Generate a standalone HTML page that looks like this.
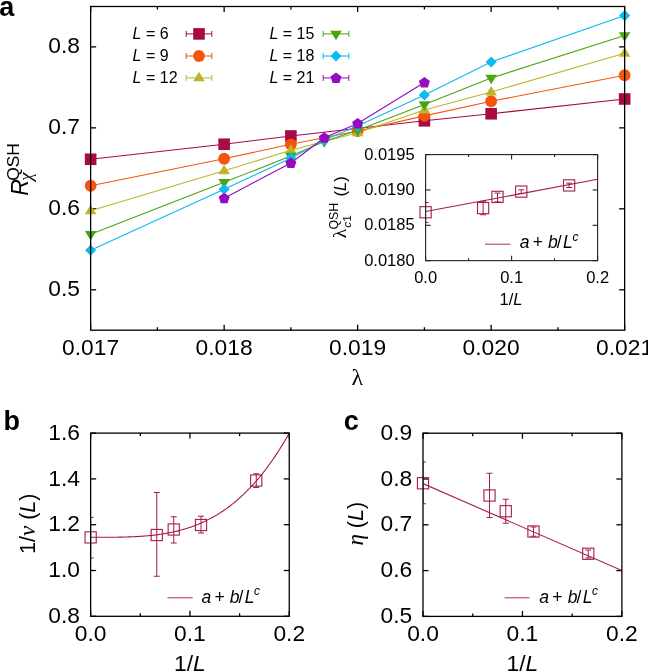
<!DOCTYPE html><html><head><meta charset="utf-8"><style>html,body{margin:0;padding:0;background:#fff;}svg{display:block;will-change:transform;}text{font-family:"Liberation Sans", sans-serif;fill:#000;}</style></head><body>
<svg width="648" height="672" viewBox="0 0 648 672">
<line x1="90.64" y1="330.20" x2="90.64" y2="324.70" stroke="#000" stroke-width="1.3" />
<line x1="90.64" y1="6.50" x2="90.64" y2="12.00" stroke="#000" stroke-width="1.3" />
<text x="90.64" y="354.50" font-size="22.8" text-anchor="middle" >0.017</text>
<line x1="224.14" y1="330.20" x2="224.14" y2="324.70" stroke="#000" stroke-width="1.3" />
<line x1="224.14" y1="6.50" x2="224.14" y2="12.00" stroke="#000" stroke-width="1.3" />
<text x="224.14" y="354.50" font-size="22.8" text-anchor="middle" >0.018</text>
<line x1="357.64" y1="330.20" x2="357.64" y2="324.70" stroke="#000" stroke-width="1.3" />
<line x1="357.64" y1="6.50" x2="357.64" y2="12.00" stroke="#000" stroke-width="1.3" />
<text x="357.64" y="354.50" font-size="22.8" text-anchor="middle" >0.019</text>
<line x1="491.15" y1="330.20" x2="491.15" y2="324.70" stroke="#000" stroke-width="1.3" />
<line x1="491.15" y1="6.50" x2="491.15" y2="12.00" stroke="#000" stroke-width="1.3" />
<text x="491.15" y="354.50" font-size="22.8" text-anchor="middle" >0.020</text>
<line x1="624.65" y1="330.20" x2="624.65" y2="324.70" stroke="#000" stroke-width="1.3" />
<line x1="624.65" y1="6.50" x2="624.65" y2="12.00" stroke="#000" stroke-width="1.3" />
<text x="624.65" y="354.50" font-size="22.8" text-anchor="middle" >0.021</text>
<line x1="157.39" y1="330.20" x2="157.39" y2="327.20" stroke="#000" stroke-width="1.3" />
<line x1="157.39" y1="6.50" x2="157.39" y2="9.50" stroke="#000" stroke-width="1.3" />
<line x1="290.89" y1="330.20" x2="290.89" y2="327.20" stroke="#000" stroke-width="1.3" />
<line x1="290.89" y1="6.50" x2="290.89" y2="9.50" stroke="#000" stroke-width="1.3" />
<line x1="424.40" y1="330.20" x2="424.40" y2="327.20" stroke="#000" stroke-width="1.3" />
<line x1="424.40" y1="6.50" x2="424.40" y2="9.50" stroke="#000" stroke-width="1.3" />
<line x1="557.90" y1="330.20" x2="557.90" y2="327.20" stroke="#000" stroke-width="1.3" />
<line x1="557.90" y1="6.50" x2="557.90" y2="9.50" stroke="#000" stroke-width="1.3" />
<line x1="90.64" y1="289.80" x2="96.14" y2="289.80" stroke="#000" stroke-width="1.3" />
<line x1="624.65" y1="289.80" x2="619.15" y2="289.80" stroke="#000" stroke-width="1.3" />
<text x="80.00" y="296.40" font-size="22.8" text-anchor="end" >0.5</text>
<line x1="90.64" y1="208.83" x2="96.14" y2="208.83" stroke="#000" stroke-width="1.3" />
<line x1="624.65" y1="208.83" x2="619.15" y2="208.83" stroke="#000" stroke-width="1.3" />
<text x="80.00" y="215.43" font-size="22.8" text-anchor="end" >0.6</text>
<line x1="90.64" y1="127.86" x2="96.14" y2="127.86" stroke="#000" stroke-width="1.3" />
<line x1="624.65" y1="127.86" x2="619.15" y2="127.86" stroke="#000" stroke-width="1.3" />
<text x="80.00" y="134.46" font-size="22.8" text-anchor="end" >0.7</text>
<line x1="90.64" y1="46.89" x2="96.14" y2="46.89" stroke="#000" stroke-width="1.3" />
<line x1="624.65" y1="46.89" x2="619.15" y2="46.89" stroke="#000" stroke-width="1.3" />
<text x="80.00" y="53.49" font-size="22.8" text-anchor="end" >0.8</text>
<polyline points="90.64,159.25 224.14,144.25 290.89,136.00 424.40,120.80 491.15,113.75 624.65,99.00" fill="none" stroke="#a80a44" stroke-width="1.1"/>
<polyline points="90.64,185.75 224.14,158.75 290.89,144.30 357.64,131.00 424.40,115.90 491.15,101.25 624.65,75.25" fill="none" stroke="#f4550e" stroke-width="1.1"/>
<polyline points="90.64,210.75 224.14,170.75 290.89,150.25 357.64,132.75 424.40,110.00 491.15,92.00 624.65,53.25" fill="none" stroke="#bdb42c" stroke-width="1.1"/>
<polyline points="90.64,234.30 224.14,182.30 290.89,156.05 324.27,141.55 357.64,130.35 424.40,104.45 491.15,78.05 624.65,35.55" fill="none" stroke="#48a612" stroke-width="1.1"/>
<polyline points="90.64,250.25 224.14,189.25 290.89,158.30 324.27,140.00 357.64,126.00 424.40,95.00 491.15,62.00 624.65,15.60" fill="none" stroke="#0cbaec" stroke-width="1.1"/>
<polyline points="224.14,198.25 290.89,163.00 324.27,137.70 357.64,123.50 424.40,82.50" fill="none" stroke="#940cbe" stroke-width="1.1"/>
<rect x="84.84" y="153.45" width="11.60" height="11.60" fill="#a80a44"/>
<rect x="218.34" y="138.45" width="11.60" height="11.60" fill="#a80a44"/>
<rect x="285.09" y="130.20" width="11.60" height="11.60" fill="#a80a44"/>
<rect x="418.60" y="115.00" width="11.60" height="11.60" fill="#a80a44"/>
<rect x="485.35" y="107.95" width="11.60" height="11.60" fill="#a80a44"/>
<rect x="618.85" y="93.20" width="11.60" height="11.60" fill="#a80a44"/>
<circle cx="90.64" cy="185.75" r="5.90" fill="#f4550e"/>
<circle cx="224.14" cy="158.75" r="5.90" fill="#f4550e"/>
<circle cx="290.89" cy="144.30" r="5.90" fill="#f4550e"/>
<circle cx="357.64" cy="131.00" r="5.90" fill="#f4550e"/>
<circle cx="424.40" cy="115.90" r="5.90" fill="#f4550e"/>
<circle cx="491.15" cy="101.25" r="5.90" fill="#f4550e"/>
<circle cx="624.65" cy="75.25" r="5.90" fill="#f4550e"/>
<polygon points="84.84,214.17 96.44,214.17 90.64,204.66" fill="#bdb42c"/>
<polygon points="218.34,174.17 229.94,174.17 224.14,164.66" fill="#bdb42c"/>
<polygon points="285.09,153.67 296.69,153.67 290.89,144.16" fill="#bdb42c"/>
<polygon points="351.84,136.17 363.44,136.17 357.64,126.66" fill="#bdb42c"/>
<polygon points="418.60,113.42 430.20,113.42 424.40,103.91" fill="#bdb42c"/>
<polygon points="485.35,95.42 496.95,95.42 491.15,85.91" fill="#bdb42c"/>
<polygon points="618.85,56.67 630.45,56.67 624.65,47.16" fill="#bdb42c"/>
<polygon points="84.84,231.07 96.44,231.07 90.64,240.58" fill="#48a612"/>
<polygon points="218.34,179.07 229.94,179.07 224.14,188.58" fill="#48a612"/>
<polygon points="285.09,152.82 296.69,152.82 290.89,162.33" fill="#48a612"/>
<polygon points="318.47,138.32 330.07,138.32 324.27,147.83" fill="#48a612"/>
<polygon points="351.84,127.12 363.44,127.12 357.64,136.63" fill="#48a612"/>
<polygon points="418.60,101.22 430.20,101.22 424.40,110.73" fill="#48a612"/>
<polygon points="485.35,74.82 496.95,74.82 491.15,84.33" fill="#48a612"/>
<polygon points="618.85,32.32 630.45,32.32 624.65,41.83" fill="#48a612"/>
<polygon points="90.64,244.68 96.21,250.25 90.64,255.82 85.07,250.25" fill="#0cbaec"/>
<polygon points="224.14,183.68 229.71,189.25 224.14,194.82 218.57,189.25" fill="#0cbaec"/>
<polygon points="290.89,152.73 296.46,158.30 290.89,163.87 285.33,158.30" fill="#0cbaec"/>
<polygon points="324.27,134.43 329.84,140.00 324.27,145.57 318.70,140.00" fill="#0cbaec"/>
<polygon points="357.64,120.43 363.21,126.00 357.64,131.57 352.08,126.00" fill="#0cbaec"/>
<polygon points="424.40,89.43 429.96,95.00 424.40,100.57 418.83,95.00" fill="#0cbaec"/>
<polygon points="491.15,56.43 496.72,62.00 491.15,67.57 485.58,62.00" fill="#0cbaec"/>
<polygon points="624.65,10.03 630.22,15.60 624.65,21.17 619.08,15.60" fill="#0cbaec"/>
<polygon points="224.14,192.85 229.66,196.86 227.55,203.34 220.73,203.34 218.63,196.86" fill="#940cbe"/>
<polygon points="290.89,157.60 296.41,161.61 294.30,168.09 287.48,168.09 285.38,161.61" fill="#940cbe"/>
<polygon points="324.27,132.30 329.79,136.31 327.68,142.79 320.86,142.79 318.75,136.31" fill="#940cbe"/>
<polygon points="357.64,118.10 363.16,122.11 361.05,128.59 354.24,128.59 352.13,122.11" fill="#940cbe"/>
<polygon points="424.40,77.10 429.91,81.11 427.81,87.59 420.99,87.59 418.88,81.11" fill="#940cbe"/>
<rect x="90.64" y="6.5" width="534.01" height="323.70" fill="none" stroke="#000" stroke-width="1.3"/>
<text x="357.40" y="385.40" font-size="24" text-anchor="middle" style='font-family:"Liberation Serif", serif'>λ</text>
<g transform="translate(27.5,196) rotate(-90)"><text x="0.3" y="0" font-size="23" font-style="italic">R</text><text x="15.2" y="-8.9" font-size="17.4">QSH</text><text x="15.3" y="4.8" font-size="18.5" font-style="italic" style='font-family:"Liberation Serif", serif'>χ</text></g>
<text x="-0.80" y="15.70" font-size="27" text-anchor="start" font-weight="bold">a</text>
<text x="132.60" y="39.10" font-size="16" text-anchor="start" ><tspan font-style="italic">L</tspan> = 6</text>
<line x1="186.20" y1="33.90" x2="211.80" y2="33.90" stroke="#a80a44" stroke-width="1.0" />
<line x1="186.20" y1="30.90" x2="186.20" y2="36.90" stroke="#a80a44" stroke-width="1.0" />
<line x1="211.80" y1="30.90" x2="211.80" y2="36.90" stroke="#a80a44" stroke-width="1.0" />
<rect x="193.20" y="28.10" width="11.60" height="11.60" fill="#a80a44"/>
<text x="132.60" y="61.20" font-size="16" text-anchor="start" ><tspan font-style="italic">L</tspan> = 9</text>
<line x1="186.20" y1="56.00" x2="211.80" y2="56.00" stroke="#f4550e" stroke-width="1.0" />
<line x1="186.20" y1="53.00" x2="186.20" y2="59.00" stroke="#f4550e" stroke-width="1.0" />
<line x1="211.80" y1="53.00" x2="211.80" y2="59.00" stroke="#f4550e" stroke-width="1.0" />
<circle cx="199.00" cy="56.00" r="5.90" fill="#f4550e"/>
<text x="132.60" y="83.10" font-size="16" text-anchor="start" ><tspan font-style="italic">L</tspan> = 12</text>
<line x1="186.20" y1="77.90" x2="211.80" y2="77.90" stroke="#bdb42c" stroke-width="1.0" />
<line x1="186.20" y1="74.90" x2="186.20" y2="80.90" stroke="#bdb42c" stroke-width="1.0" />
<line x1="211.80" y1="74.90" x2="211.80" y2="80.90" stroke="#bdb42c" stroke-width="1.0" />
<polygon points="193.20,81.32 204.80,81.32 199.00,71.81" fill="#bdb42c"/>
<text x="269.40" y="39.10" font-size="16" text-anchor="start" ><tspan font-style="italic">L</tspan> = 15</text>
<line x1="323.20" y1="33.90" x2="348.80" y2="33.90" stroke="#48a612" stroke-width="1.0" />
<line x1="323.20" y1="30.90" x2="323.20" y2="36.90" stroke="#48a612" stroke-width="1.0" />
<line x1="348.80" y1="30.90" x2="348.80" y2="36.90" stroke="#48a612" stroke-width="1.0" />
<polygon points="330.20,30.67 341.80,30.67 336.00,40.18" fill="#48a612"/>
<text x="269.40" y="61.20" font-size="16" text-anchor="start" ><tspan font-style="italic">L</tspan> = 18</text>
<line x1="323.20" y1="56.00" x2="348.80" y2="56.00" stroke="#0cbaec" stroke-width="1.0" />
<line x1="323.20" y1="53.00" x2="323.20" y2="59.00" stroke="#0cbaec" stroke-width="1.0" />
<line x1="348.80" y1="53.00" x2="348.80" y2="59.00" stroke="#0cbaec" stroke-width="1.0" />
<polygon points="336.00,50.43 341.57,56.00 336.00,61.57 330.43,56.00" fill="#0cbaec"/>
<text x="269.40" y="83.10" font-size="16" text-anchor="start" ><tspan font-style="italic">L</tspan> = 21</text>
<line x1="323.20" y1="77.90" x2="348.80" y2="77.90" stroke="#940cbe" stroke-width="1.0" />
<line x1="323.20" y1="74.90" x2="323.20" y2="80.90" stroke="#940cbe" stroke-width="1.0" />
<line x1="348.80" y1="74.90" x2="348.80" y2="80.90" stroke="#940cbe" stroke-width="1.0" />
<polygon points="336.00,72.50 341.52,76.51 339.41,82.99 332.59,82.99 330.48,76.51" fill="#940cbe"/>
<clipPath id="ci"><rect x="425.6" y="154.6" width="172.00" height="106.05"/></clipPath>
<line x1="425.60" y1="260.65" x2="425.60" y2="255.65" stroke="#222" stroke-width="1.1" />
<line x1="425.60" y1="154.60" x2="425.60" y2="159.60" stroke="#222" stroke-width="1.1" />
<text x="425.60" y="282.80" font-size="16.5" text-anchor="middle" >0.0</text>
<line x1="511.60" y1="260.65" x2="511.60" y2="255.65" stroke="#222" stroke-width="1.1" />
<line x1="511.60" y1="154.60" x2="511.60" y2="159.60" stroke="#222" stroke-width="1.1" />
<text x="511.60" y="282.80" font-size="16.5" text-anchor="middle" >0.1</text>
<line x1="597.60" y1="260.65" x2="597.60" y2="255.65" stroke="#222" stroke-width="1.1" />
<line x1="597.60" y1="154.60" x2="597.60" y2="159.60" stroke="#222" stroke-width="1.1" />
<text x="597.60" y="282.80" font-size="16.5" text-anchor="middle" >0.2</text>
<line x1="468.60" y1="260.65" x2="468.60" y2="258.15" stroke="#222" stroke-width="1.1" />
<line x1="468.60" y1="154.60" x2="468.60" y2="157.10" stroke="#222" stroke-width="1.1" />
<line x1="554.60" y1="260.65" x2="554.60" y2="258.15" stroke="#222" stroke-width="1.1" />
<line x1="554.60" y1="154.60" x2="554.60" y2="157.10" stroke="#222" stroke-width="1.1" />
<line x1="425.60" y1="260.65" x2="430.60" y2="260.65" stroke="#222" stroke-width="1.1" />
<line x1="597.60" y1="260.65" x2="592.60" y2="260.65" stroke="#222" stroke-width="1.1" />
<text x="414.60" y="265.75" font-size="16.5" text-anchor="end" >0.0180</text>
<line x1="425.60" y1="225.30" x2="430.60" y2="225.30" stroke="#222" stroke-width="1.1" />
<line x1="597.60" y1="225.30" x2="592.60" y2="225.30" stroke="#222" stroke-width="1.1" />
<text x="414.60" y="230.40" font-size="16.5" text-anchor="end" >0.0185</text>
<line x1="425.60" y1="189.95" x2="430.60" y2="189.95" stroke="#222" stroke-width="1.1" />
<line x1="597.60" y1="189.95" x2="592.60" y2="189.95" stroke="#222" stroke-width="1.1" />
<text x="414.60" y="195.05" font-size="16.5" text-anchor="end" >0.0190</text>
<line x1="425.60" y1="154.60" x2="430.60" y2="154.60" stroke="#222" stroke-width="1.1" />
<line x1="597.60" y1="154.60" x2="592.60" y2="154.60" stroke="#222" stroke-width="1.1" />
<text x="414.60" y="159.70" font-size="16.5" text-anchor="end" >0.0195</text>
<line x1="425.6" y1="211.5" x2="597.6" y2="179.3" stroke="#a31a50" stroke-width="1.1"/>
<g clip-path="url(#ci)">
<line x1="425.60" y1="202.50" x2="425.60" y2="222.50" stroke="#a31a50" stroke-width="1.0" />
<line x1="422.60" y1="202.50" x2="428.60" y2="202.50" stroke="#a31a50" stroke-width="1.0" />
<line x1="422.60" y1="222.50" x2="428.60" y2="222.50" stroke="#a31a50" stroke-width="1.0" />
<line x1="483.10" y1="201.25" x2="483.10" y2="214.75" stroke="#a31a50" stroke-width="1.0" />
<line x1="480.10" y1="201.25" x2="486.10" y2="201.25" stroke="#a31a50" stroke-width="1.0" />
<line x1="480.10" y1="214.75" x2="486.10" y2="214.75" stroke="#a31a50" stroke-width="1.0" />
<line x1="497.50" y1="193.10" x2="497.50" y2="201.90" stroke="#a31a50" stroke-width="1.0" />
<line x1="494.50" y1="193.10" x2="500.50" y2="193.10" stroke="#a31a50" stroke-width="1.0" />
<line x1="494.50" y1="201.90" x2="500.50" y2="201.90" stroke="#a31a50" stroke-width="1.0" />
<line x1="521.25" y1="189.75" x2="521.25" y2="193.50" stroke="#a31a50" stroke-width="1.0" />
<line x1="518.25" y1="189.75" x2="524.25" y2="189.75" stroke="#a31a50" stroke-width="1.0" />
<line x1="518.25" y1="193.50" x2="524.25" y2="193.50" stroke="#a31a50" stroke-width="1.0" />
<line x1="569.10" y1="183.10" x2="569.10" y2="187.50" stroke="#a31a50" stroke-width="1.0" />
<line x1="566.10" y1="183.10" x2="572.10" y2="183.10" stroke="#a31a50" stroke-width="1.0" />
<line x1="566.10" y1="187.50" x2="572.10" y2="187.50" stroke="#a31a50" stroke-width="1.0" />
</g>
<rect x="420.00" y="206.65" width="11.2" height="11.2" fill="none" stroke="#a31a50" stroke-width="1.1"/>
<rect x="477.50" y="202.50" width="11.2" height="11.2" fill="none" stroke="#a31a50" stroke-width="1.1"/>
<rect x="491.90" y="191.30" width="11.2" height="11.2" fill="none" stroke="#a31a50" stroke-width="1.1"/>
<rect x="515.65" y="186.00" width="11.2" height="11.2" fill="none" stroke="#a31a50" stroke-width="1.1"/>
<rect x="563.50" y="179.80" width="11.2" height="11.2" fill="none" stroke="#a31a50" stroke-width="1.1"/>
<rect x="425.6" y="154.6" width="172.00" height="106.05" fill="none" stroke="#222" stroke-width="1.1"/>
<text x="511.00" y="304.50" font-size="16.5" text-anchor="middle" >1/<tspan font-style="italic">L</tspan></text>
<line x1="485.00" y1="244.20" x2="510.50" y2="244.20" stroke="#a31a50" stroke-width="0.9" />
<text y="248.30" font-size="17.5"><tspan x="519.70" font-style="italic">a</tspan><tspan x="532.70">+</tspan><tspan x="548.10" font-style="italic">b</tspan><tspan x="556.80">/</tspan><tspan x="563.10" font-style="italic">L</tspan><tspan x="572.40" y="241.00" font-style="italic" font-size="12">c</tspan></text>
<g transform="translate(345.5,238.5) rotate(-90)"><text x="0.2" y="0" font-size="19.5" style='font-family:"Liberation Serif", serif'>λ</text><text x="10.8" y="5.9" font-size="11.8"><tspan font-style="italic">c</tspan>1</text><text x="8.9" y="-7.9" font-size="12.4">QSH</text><text x="42" y="0" font-size="16.5">(<tspan font-style="italic">L</tspan>)</text></g>
<clipPath id="cb"><rect x="90.64" y="433.1" width="198.62" height="183.20"/></clipPath>
<line x1="90.64" y1="616.30" x2="90.64" y2="610.80" stroke="#000" stroke-width="1.3" />
<line x1="90.64" y1="433.10" x2="90.64" y2="438.60" stroke="#000" stroke-width="1.3" />
<text x="90.64" y="641.00" font-size="22.8" text-anchor="middle" >0.0</text>
<line x1="189.95" y1="616.30" x2="189.95" y2="610.80" stroke="#000" stroke-width="1.3" />
<line x1="189.95" y1="433.10" x2="189.95" y2="438.60" stroke="#000" stroke-width="1.3" />
<text x="189.95" y="641.00" font-size="22.8" text-anchor="middle" >0.1</text>
<line x1="289.26" y1="616.30" x2="289.26" y2="610.80" stroke="#000" stroke-width="1.3" />
<line x1="289.26" y1="433.10" x2="289.26" y2="438.60" stroke="#000" stroke-width="1.3" />
<text x="289.26" y="641.00" font-size="22.8" text-anchor="middle" >0.2</text>
<line x1="140.30" y1="616.30" x2="140.30" y2="613.30" stroke="#000" stroke-width="1.3" />
<line x1="140.30" y1="433.10" x2="140.30" y2="436.10" stroke="#000" stroke-width="1.3" />
<line x1="239.60" y1="616.30" x2="239.60" y2="613.30" stroke="#000" stroke-width="1.3" />
<line x1="239.60" y1="433.10" x2="239.60" y2="436.10" stroke="#000" stroke-width="1.3" />
<line x1="90.64" y1="616.30" x2="96.14" y2="616.30" stroke="#000" stroke-width="1.3" />
<line x1="289.26" y1="616.30" x2="283.76" y2="616.30" stroke="#000" stroke-width="1.3" />
<text x="79.94" y="622.90" font-size="22.8" text-anchor="end" >0.8</text>
<line x1="90.64" y1="570.50" x2="96.14" y2="570.50" stroke="#000" stroke-width="1.3" />
<line x1="289.26" y1="570.50" x2="283.76" y2="570.50" stroke="#000" stroke-width="1.3" />
<text x="79.94" y="577.10" font-size="22.8" text-anchor="end" >1.0</text>
<line x1="90.64" y1="524.70" x2="96.14" y2="524.70" stroke="#000" stroke-width="1.3" />
<line x1="289.26" y1="524.70" x2="283.76" y2="524.70" stroke="#000" stroke-width="1.3" />
<text x="79.94" y="531.30" font-size="22.8" text-anchor="end" >1.2</text>
<line x1="90.64" y1="478.90" x2="96.14" y2="478.90" stroke="#000" stroke-width="1.3" />
<line x1="289.26" y1="478.90" x2="283.76" y2="478.90" stroke="#000" stroke-width="1.3" />
<text x="79.94" y="485.50" font-size="22.8" text-anchor="end" >1.4</text>
<line x1="90.64" y1="433.10" x2="96.14" y2="433.10" stroke="#000" stroke-width="1.3" />
<line x1="289.26" y1="433.10" x2="283.76" y2="433.10" stroke="#000" stroke-width="1.3" />
<text x="79.94" y="439.70" font-size="22.8" text-anchor="end" >1.6</text>
<path d="M90.64,537.29 L91.63,537.29 L92.63,537.29 L93.62,537.29 L94.61,537.29 L95.61,537.29 L96.60,537.29 L97.59,537.29 L98.58,537.29 L99.58,537.29 L100.57,537.29 L101.56,537.29 L102.56,537.29 L103.55,537.29 L104.54,537.28 L105.54,537.28 L106.53,537.28 L107.52,537.27 L108.52,537.27 L109.51,537.26 L110.50,537.25 L111.50,537.24 L112.49,537.24 L113.48,537.23 L114.47,537.22 L115.47,537.20 L116.46,537.19 L117.45,537.18 L118.45,537.16 L119.44,537.15 L120.43,537.13 L121.43,537.11 L122.42,537.09 L123.41,537.06 L124.41,537.04 L125.40,537.01 L126.39,536.98 L127.38,536.95 L128.38,536.92 L129.37,536.89 L130.36,536.85 L131.36,536.81 L132.35,536.77 L133.34,536.73 L134.34,536.68 L135.33,536.63 L136.32,536.58 L137.32,536.53 L138.31,536.47 L139.30,536.41 L140.30,536.35 L141.29,536.28 L142.28,536.21 L143.27,536.14 L144.27,536.06 L145.26,535.99 L146.25,535.90 L147.25,535.82 L148.24,535.73 L149.23,535.63 L150.23,535.54 L151.22,535.44 L152.21,535.33 L153.21,535.22 L154.20,535.11 L155.19,534.99 L156.18,534.87 L157.18,534.74 L158.17,534.61 L159.16,534.47 L160.16,534.33 L161.15,534.18 L162.14,534.03 L163.14,533.88 L164.13,533.72 L165.12,533.55 L166.12,533.38 L167.11,533.20 L168.10,533.02 L169.09,532.83 L170.09,532.63 L171.08,532.43 L172.07,532.22 L173.07,532.01 L174.06,531.79 L175.05,531.57 L176.05,531.34 L177.04,531.10 L178.03,530.85 L179.03,530.60 L180.02,530.34 L181.01,530.08 L182.01,529.81 L183.00,529.53 L183.99,529.24 L184.98,528.95 L185.98,528.64 L186.97,528.33 L187.96,528.02 L188.96,527.69 L189.95,527.36 L190.94,527.02 L191.94,526.67 L192.93,526.31 L193.92,525.95 L194.92,525.57 L195.91,525.19 L196.90,524.80 L197.89,524.40 L198.89,523.99 L199.88,523.57 L200.87,523.14 L201.87,522.71 L202.86,522.26 L203.85,521.80 L204.85,521.34 L205.84,520.86 L206.83,520.38 L207.83,519.88 L208.82,519.38 L209.81,518.86 L210.81,518.34 L211.80,517.80 L212.79,517.25 L213.78,516.69 L214.78,516.13 L215.77,515.55 L216.76,514.96 L217.76,514.35 L218.75,513.74 L219.74,513.12 L220.74,512.48 L221.73,511.83 L222.72,511.17 L223.72,510.50 L224.71,509.82 L225.70,509.12 L226.69,508.41 L227.69,507.69 L228.68,506.96 L229.67,506.21 L230.67,505.45 L231.66,504.68 L232.65,503.89 L233.65,503.09 L234.64,502.28 L235.63,501.46 L236.63,500.62 L237.62,499.77 L238.61,498.90 L239.60,498.02 L240.60,497.12 L241.59,496.21 L242.58,495.29 L243.58,494.35 L244.57,493.40 L245.56,492.43 L246.56,491.45 L247.55,490.45 L248.54,489.44 L249.54,488.41 L250.53,487.37 L251.52,486.31 L252.52,485.24 L253.51,484.14 L254.50,483.04 L255.49,481.92 L256.49,480.78 L257.48,479.62 L258.47,478.45 L259.47,477.26 L260.46,476.05 L261.45,474.83 L262.45,473.59 L263.44,472.33 L264.43,471.06 L265.43,469.77 L266.42,468.46 L267.41,467.13 L268.40,465.79 L269.40,464.42 L270.39,463.04 L271.38,461.64 L272.38,460.22 L273.37,458.79 L274.36,457.33 L275.36,455.86 L276.35,454.36 L277.34,452.85 L278.34,451.32 L279.33,449.76 L280.32,448.19 L281.32,446.60 L282.31,444.99 L283.30,443.36 L284.29,441.71 L285.29,440.04 L286.28,438.34 L287.27,436.63 L288.27,434.90 L289.26,433.14" fill="none" stroke="#a31a50" stroke-width="1.1" clip-path="url(#cb)"/>
<g clip-path="url(#cb)">
<line x1="90.64" y1="517.40" x2="90.64" y2="558.00" stroke="#a31a50" stroke-width="1.0" />
<line x1="87.64" y1="517.40" x2="93.64" y2="517.40" stroke="#a31a50" stroke-width="1.0" />
<line x1="87.64" y1="558.00" x2="93.64" y2="558.00" stroke="#a31a50" stroke-width="1.0" />
<line x1="156.75" y1="492.50" x2="156.75" y2="576.25" stroke="#a31a50" stroke-width="1.0" />
<line x1="153.75" y1="492.50" x2="159.75" y2="492.50" stroke="#a31a50" stroke-width="1.0" />
<line x1="153.75" y1="576.25" x2="159.75" y2="576.25" stroke="#a31a50" stroke-width="1.0" />
<line x1="173.75" y1="516.75" x2="173.75" y2="543.00" stroke="#a31a50" stroke-width="1.0" />
<line x1="170.75" y1="516.75" x2="176.75" y2="516.75" stroke="#a31a50" stroke-width="1.0" />
<line x1="170.75" y1="543.00" x2="176.75" y2="543.00" stroke="#a31a50" stroke-width="1.0" />
<line x1="201.00" y1="516.25" x2="201.00" y2="533.00" stroke="#a31a50" stroke-width="1.0" />
<line x1="198.00" y1="516.25" x2="204.00" y2="516.25" stroke="#a31a50" stroke-width="1.0" />
<line x1="198.00" y1="533.00" x2="204.00" y2="533.00" stroke="#a31a50" stroke-width="1.0" />
<line x1="256.25" y1="473.75" x2="256.25" y2="487.50" stroke="#a31a50" stroke-width="1.0" />
<line x1="253.25" y1="473.75" x2="259.25" y2="473.75" stroke="#a31a50" stroke-width="1.0" />
<line x1="253.25" y1="487.50" x2="259.25" y2="487.50" stroke="#a31a50" stroke-width="1.0" />
</g>
<rect x="85.04" y="531.80" width="11.2" height="11.2" fill="none" stroke="#a31a50" stroke-width="1.1"/>
<rect x="151.15" y="529.40" width="11.2" height="11.2" fill="none" stroke="#a31a50" stroke-width="1.1"/>
<rect x="168.15" y="523.90" width="11.2" height="11.2" fill="none" stroke="#a31a50" stroke-width="1.1"/>
<rect x="195.40" y="519.40" width="11.2" height="11.2" fill="none" stroke="#a31a50" stroke-width="1.1"/>
<rect x="250.65" y="474.90" width="11.2" height="11.2" fill="none" stroke="#a31a50" stroke-width="1.1"/>
<rect x="90.64" y="433.1" width="198.62" height="183.20" fill="none" stroke="#000" stroke-width="1.3"/>
<text x="189.95" y="671.20" font-size="22.8" text-anchor="middle" >1/<tspan font-style="italic">L</tspan></text>
<line x1="167.50" y1="597.80" x2="192.75" y2="597.80" stroke="#a31a50" stroke-width="0.9" />
<text y="602.50" font-size="17.5"><tspan x="201.40" font-style="italic">a</tspan><tspan x="214.40">+</tspan><tspan x="229.80" font-style="italic">b</tspan><tspan x="238.50">/</tspan><tspan x="244.80" font-style="italic">L</tspan><tspan x="254.10" y="595.20" font-style="italic" font-size="12">c</tspan></text>
<g transform="translate(34.5,554) rotate(-90)"><text x="0" y="0" font-size="21.5">1/<tspan font-family='"Liberation Serif", serif' font-style="italic" font-size="23">ν</tspan> (<tspan font-style="italic">L</tspan>)</text></g>
<text x="3.50" y="429.60" font-size="27" text-anchor="start" font-weight="bold">b</text>
<clipPath id="cc"><rect x="423.0" y="433.2" width="198.90" height="183.20"/></clipPath>
<line x1="423.00" y1="616.40" x2="423.00" y2="610.90" stroke="#000" stroke-width="1.3" />
<line x1="423.00" y1="433.20" x2="423.00" y2="438.70" stroke="#000" stroke-width="1.3" />
<text x="423.00" y="641.00" font-size="22.8" text-anchor="middle" >0.0</text>
<line x1="522.45" y1="616.40" x2="522.45" y2="610.90" stroke="#000" stroke-width="1.3" />
<line x1="522.45" y1="433.20" x2="522.45" y2="438.70" stroke="#000" stroke-width="1.3" />
<text x="522.45" y="641.00" font-size="22.8" text-anchor="middle" >0.1</text>
<line x1="621.90" y1="616.40" x2="621.90" y2="610.90" stroke="#000" stroke-width="1.3" />
<line x1="621.90" y1="433.20" x2="621.90" y2="438.70" stroke="#000" stroke-width="1.3" />
<text x="621.90" y="641.00" font-size="22.8" text-anchor="middle" >0.2</text>
<line x1="472.73" y1="616.40" x2="472.73" y2="613.40" stroke="#000" stroke-width="1.3" />
<line x1="472.73" y1="433.20" x2="472.73" y2="436.20" stroke="#000" stroke-width="1.3" />
<line x1="572.17" y1="616.40" x2="572.17" y2="613.40" stroke="#000" stroke-width="1.3" />
<line x1="572.17" y1="433.20" x2="572.17" y2="436.20" stroke="#000" stroke-width="1.3" />
<line x1="423.00" y1="616.40" x2="428.50" y2="616.40" stroke="#000" stroke-width="1.3" />
<line x1="621.90" y1="616.40" x2="616.40" y2="616.40" stroke="#000" stroke-width="1.3" />
<text x="412.30" y="623.00" font-size="22.8" text-anchor="end" >0.5</text>
<line x1="423.00" y1="570.60" x2="428.50" y2="570.60" stroke="#000" stroke-width="1.3" />
<line x1="621.90" y1="570.60" x2="616.40" y2="570.60" stroke="#000" stroke-width="1.3" />
<text x="412.30" y="577.20" font-size="22.8" text-anchor="end" >0.6</text>
<line x1="423.00" y1="524.80" x2="428.50" y2="524.80" stroke="#000" stroke-width="1.3" />
<line x1="621.90" y1="524.80" x2="616.40" y2="524.80" stroke="#000" stroke-width="1.3" />
<text x="412.30" y="531.40" font-size="22.8" text-anchor="end" >0.7</text>
<line x1="423.00" y1="479.00" x2="428.50" y2="479.00" stroke="#000" stroke-width="1.3" />
<line x1="621.90" y1="479.00" x2="616.40" y2="479.00" stroke="#000" stroke-width="1.3" />
<text x="412.30" y="485.60" font-size="22.8" text-anchor="end" >0.8</text>
<line x1="423.00" y1="433.20" x2="428.50" y2="433.20" stroke="#000" stroke-width="1.3" />
<line x1="621.90" y1="433.20" x2="616.40" y2="433.20" stroke="#000" stroke-width="1.3" />
<text x="412.30" y="439.80" font-size="22.8" text-anchor="end" >0.9</text>
<path d="M423.00,483.58 L621.90,570.60" fill="none" stroke="#a31a50" stroke-width="1.1" clip-path="url(#cc)"/>
<g clip-path="url(#cc)">
<line x1="423.00" y1="462.00" x2="423.00" y2="503.75" stroke="#a31a50" stroke-width="1.0" />
<line x1="420.00" y1="462.00" x2="426.00" y2="462.00" stroke="#a31a50" stroke-width="1.0" />
<line x1="420.00" y1="503.75" x2="426.00" y2="503.75" stroke="#a31a50" stroke-width="1.0" />
<line x1="489.50" y1="473.25" x2="489.50" y2="517.50" stroke="#a31a50" stroke-width="1.0" />
<line x1="486.50" y1="473.25" x2="492.50" y2="473.25" stroke="#a31a50" stroke-width="1.0" />
<line x1="486.50" y1="517.50" x2="492.50" y2="517.50" stroke="#a31a50" stroke-width="1.0" />
<line x1="505.75" y1="499.25" x2="505.75" y2="523.25" stroke="#a31a50" stroke-width="1.0" />
<line x1="502.75" y1="499.25" x2="508.75" y2="499.25" stroke="#a31a50" stroke-width="1.0" />
<line x1="502.75" y1="523.25" x2="508.75" y2="523.25" stroke="#a31a50" stroke-width="1.0" />
<line x1="533.50" y1="527.00" x2="533.50" y2="536.25" stroke="#a31a50" stroke-width="1.0" />
<line x1="530.50" y1="527.00" x2="536.50" y2="527.00" stroke="#a31a50" stroke-width="1.0" />
<line x1="530.50" y1="536.25" x2="536.50" y2="536.25" stroke="#a31a50" stroke-width="1.0" />
<line x1="588.25" y1="550.00" x2="588.25" y2="558.00" stroke="#a31a50" stroke-width="1.0" />
<line x1="585.25" y1="550.00" x2="591.25" y2="550.00" stroke="#a31a50" stroke-width="1.0" />
<line x1="585.25" y1="558.00" x2="591.25" y2="558.00" stroke="#a31a50" stroke-width="1.0" />
</g>
<rect x="417.40" y="477.65" width="11.2" height="11.2" fill="none" stroke="#a31a50" stroke-width="1.1"/>
<rect x="483.90" y="489.90" width="11.2" height="11.2" fill="none" stroke="#a31a50" stroke-width="1.1"/>
<rect x="500.15" y="505.65" width="11.2" height="11.2" fill="none" stroke="#a31a50" stroke-width="1.1"/>
<rect x="527.90" y="525.90" width="11.2" height="11.2" fill="none" stroke="#a31a50" stroke-width="1.1"/>
<rect x="582.65" y="548.15" width="11.2" height="11.2" fill="none" stroke="#a31a50" stroke-width="1.1"/>
<rect x="423.0" y="433.2" width="198.90" height="183.20" fill="none" stroke="#000" stroke-width="1.3"/>
<text x="522.45" y="671.20" font-size="22.8" text-anchor="middle" >1/<tspan font-style="italic">L</tspan></text>
<line x1="504.60" y1="597.80" x2="529.50" y2="597.80" stroke="#a31a50" stroke-width="0.9" />
<text y="602.50" font-size="17.5"><tspan x="539.35" font-style="italic">a</tspan><tspan x="552.35">+</tspan><tspan x="567.75" font-style="italic">b</tspan><tspan x="576.45">/</tspan><tspan x="582.75" font-style="italic">L</tspan><tspan x="592.05" y="595.20" font-style="italic" font-size="12">c</tspan></text>
<g transform="translate(363,545.6) rotate(-90)"><text x="0" y="0" font-size="21.5"><tspan font-family='"Liberation Serif", serif' font-style="italic" font-size="23">η</tspan> (<tspan font-style="italic">L</tspan>)</text></g>
<text x="343.80" y="430.00" font-size="27" text-anchor="start" font-weight="bold">c</text>
</svg></body></html>
